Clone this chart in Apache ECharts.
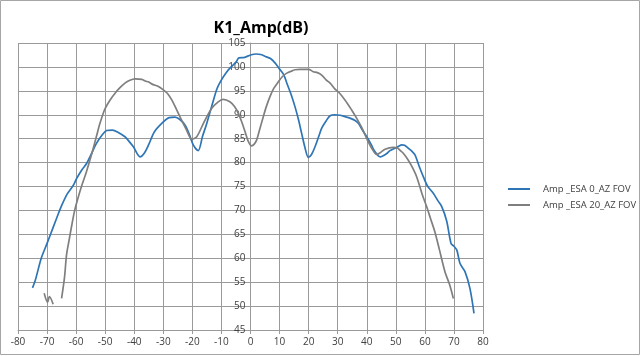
<!DOCTYPE html>
<html>
<head>
<meta charset="utf-8">
<script src="https://cdn.jsdelivr.net/npm/echarts@6/dist/echarts.min.js"></script>
<style>
html,body{margin:0;padding:0;background:#fff;}
#c{width:640px;height:356px;}
</style>
</head>
<body>
<div id="c"></div>
<script>
const title = 'K1_Amp(dB)';
const seriesNames = ['Amp _ESA 0_AZ FOV', 'Amp _ESA 20_AZ FOV'];
const xTicks = [-80, 80, 10];
const yTicks = [45, 105, 5];

const esa0Angle = [-75,-74,-72,-70,-68,-66,-65,-63,-61,-59.8,-58,-56.4,-55,-53,-51,-49.5,-47.5,-45.5,-43.2,-42,-40.3,-38,-36.5,-35,-33,-30,-28,-26,-24.3,-22.5,-21,-19.7,-18,-16.5,-15,-13,-11.5,-10,-8.5,-7,-5,-4,-2,0,2,3.5,5.5,7,8.5,10.2,11.5,12.5,14,15.3,16.5,17.6,18.8,19.9,21,22.2,23.5,24.5,26,27.4,29,30.8,32.5,34.2,36,37.1,38.5,40,41.5,42.8,44.6,45.5,46.9,48,49.7,51,52,53,54.3,55.5,56.6,58,59.5,61,62.9,64.5,65.8,67.5,69,70,71,72.1,73.8,75.5,76.9];
const esa0Amp = [53.8,55.5,60,63.1,66.3,69.5,71,73.5,75.2,76.7,78.5,79.8,81.5,84,85.8,86.7,86.8,86.3,85.4,84.6,83.3,81.2,82,83.8,86.5,88.5,89.4,89.5,89,87.8,85.8,83.7,82.5,85.5,88.3,92.5,95.5,97.3,98.7,99.8,101,101.9,102,102.5,102.7,102.6,102.1,101.7,100.8,99.4,98.3,96.6,94.2,91.7,89,86.1,83,81.1,81.7,83.3,85.5,87.2,88.7,89.8,90,89.9,89.6,89.3,88.8,88.2,86.8,85.4,83.8,82.3,81.2,81.4,81.9,82.5,83,83.4,83.7,83.6,83,82.4,81.6,79.3,77,75,73.6,72,70.8,67.8,63.1,62.5,61.7,58.9,57.2,53.7,48.5];

const esa20Angle = [-71,-69.8,-69.2,-67.9,-66.5,-65,-64,-63.3,-62.5,-61.5,-60.5,-59.5,-58,-56.5,-54.6,-53,-51.8,-50.1,-48.3,-46.6,-45,-43.2,-41.5,-39.7,-37.4,-36,-35.2,-33.5,-32,-30,-28.5,-27.1,-26,-24.3,-22,-20.2,-18.5,-16.2,-13.4,-11.1,-9.4,-7.1,-5.5,-4.2,-3,-1.9,-0.8,0.4,1.2,2.1,3.2,4.4,5.5,6.7,8,9.6,11,12.5,14,15.3,17,18.2,20,21.6,23,24.5,26,27.4,29,30.2,32.5,34.8,36.5,38.3,40,41.7,43.4,44.5,46.3,49.1,50.5,51.4,52.5,54.3,55.7,57.2,59,60.6,62,63.5,65,66.9,68.5,69.8];
const esa20Amp = [52.7,50.8,52,50.4,null,51.6,56,60.7,63.5,66.9,70,72.3,75.3,78,81.9,85.5,88.2,91.2,93.1,94.5,95.6,96.6,97.2,97.5,97.4,97,96.9,96.3,96,95.2,94.4,93.1,91.8,89.6,86.8,84.9,85.4,88.2,91.3,92.7,93.2,92.7,91.7,90.3,88.5,86.5,84.5,83.5,83.8,84.7,87,89.6,91.8,93.8,95.5,96.9,98,98.7,99.1,99.4,99.5,99.5,99.5,99,98.8,98.3,97.3,96.6,95.4,94.8,93.1,91,89.3,87.3,85,83,81.7,82,82.8,83.2,83.1,82.6,82,80.5,79,77,73.5,70.8,68.2,65.4,61.8,57.2,54.5,51.6];

const pair = (xs, ys) => xs.map((x, i) => [x, ys[i]]);

const gridLeft = 18, gridRight = 157, chartW = 640;
const plotW = chartW - gridLeft - gridRight;
// y-axis sits where x = 0 (middle of the -80..80 range)
const yAxisOffset = -plotW * (0 - xTicks[0]) / (xTicks[1] - xTicks[0]);

const chart = echarts.init(document.getElementById('c'), null, {renderer: 'canvas'});
const gridColor = '#9a9a9a';
const textColor = '#404040';
chart.setOption({
  animation: false,
  backgroundColor: '#fff',
  title: {
    text: title, left: 256, top: 15, textAlign: 'center',
    textStyle: {fontFamily: 'Open Sans', fontWeight: 'bold', fontSize: 16, color: '#000'}
  },
  legend: {
    orient: 'vertical', left: 503, top: 179, itemWidth: 22, itemHeight: 2, itemGap: 6,
    icon: 'rect',
    textStyle: {fontFamily: 'Open Sans', fontSize: 9.5, color: textColor, padding: [0, 0, 0, 8]},
    data: seriesNames
  },
  grid: {left: gridLeft, right: gridRight, top: 43, bottom: 26, containLabel: false},
  xAxis: {
    type: 'value', min: xTicks[0], max: xTicks[1], interval: xTicks[2],
    axisLine: {show: true, lineStyle: {color: gridColor}},
    axisTick: {show: true, length: 4, lineStyle: {color: gridColor}},
    axisLabel: {fontFamily: 'Open Sans', fontSize: 10, color: textColor, margin: 7},
    splitLine: {show: true, lineStyle: {color: gridColor, width: 1}}
  },
  yAxis: {
    type: 'value', min: yTicks[0], max: yTicks[1], interval: yTicks[2],
    position: 'left', offset: yAxisOffset,
    axisLine: {show: true, onZero: false, lineStyle: {color: gridColor}},
    axisTick: {show: true, length: 3, lineStyle: {color: gridColor}},
    axisLabel: {fontFamily: 'Open Sans', fontSize: 10, color: textColor, margin: 5},
    splitLine: {show: true, lineStyle: {color: gridColor, width: 1}}
  },
  graphic: [{
    type: 'rect', shape: {x: 0.5, y: 0.5, width: 639, height: 354},
    style: {fill: 'none', stroke: '#a6a6a6', lineWidth: 1}, silent: true
  }],
  series: [
    {name: seriesNames[0], type: 'line', data: pair(esa0Angle, esa0Amp), showSymbol: false, smooth: 0.3,
     lineStyle: {color: '#2e75b6', width: 1.7}, itemStyle: {color: '#2e75b6'}, connectNulls: false},
    {name: seriesNames[1], type: 'line', data: pair(esa20Angle, esa20Amp), showSymbol: false, smooth: 0.3,
     lineStyle: {color: '#7f7f7f', width: 1.7}, itemStyle: {color: '#7f7f7f'}, connectNulls: false}
  ]
});
</script>
</body>
</html>
